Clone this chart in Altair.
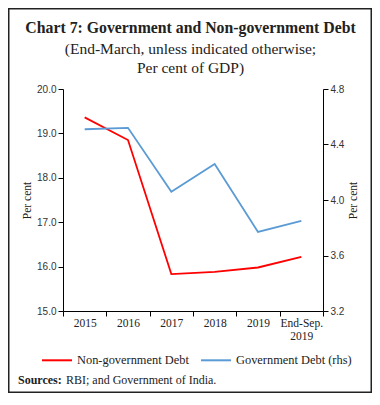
import altair as alt
import pandas as pd

years = ["2015", "2016", "2017", "2018", "2019", "End-Sep. 2019"]
nongov = [19.36, 18.85, 15.83, 15.88, 15.98, 16.22]
gov = [4.51, 4.52, 4.06, 4.26, 3.77, 3.85]
series_names = ["Non-government Debt", "Government Debt (rhs)"]
series_colors = ["#ff0000", "#5b9bd5"]
left_ticks = [15, 16, 17, 18, 19, 20]
right_ticks = [3.2, 3.6, 4.0, 4.4, 4.8]
title_lines = [
    "Chart 7: Government and Non-government Debt",
    "(End-March, unless indicated otherwise;",
    "Per cent of GDP)",
]

df_ng = pd.DataFrame({"year": years, "value": nongov, "series": series_names[0]})
df_g = pd.DataFrame({"year": years, "value": gov, "series": series_names[1]})
one = pd.DataFrame({"k": [0]})

SERIF = "Liberation Serif"
SANS = "Liberation Sans"
INK = "#222222"

x_enc = alt.X(
    "year:O", sort=years, bandPosition=0.5,
    scale=alt.Scale(type="band", paddingInner=0, paddingOuter=0),
    axis=alt.Axis(
        title=None, tickBand="extent", labelAngle=0, labelFont=SERIF,
        labelFontSize=11.5, labelColor=INK, labelPadding=1, tickSize=5,
        domainColor="#000", tickColor="#000", domainWidth=1,
        labelExpr="datum.value == 'End-Sep. 2019' ? ['End-Sep.', '2019'] : datum.value",
    ),
)

color_enc = alt.Color(
    "series:N",
    scale=alt.Scale(domain=series_names, range=series_colors),
    legend=alt.Legend(
        title=None, orient="none", legendX=-22, legendY=255,
        direction="horizontal", symbolType="stroke", symbolSize=900,
        symbolStrokeWidth=2, labelFont=SERIF, labelFontSize=12.4,
        labelColor=INK, labelOffset=4, columnPadding=8, labelLimit=0,
    ),
)

left = alt.Chart(df_ng).mark_line(strokeWidth=1.8).encode(
    x=x_enc,
    y=alt.Y(
        "value:Q",
        scale=alt.Scale(domain=[15, 20], nice=False, zero=False),
        axis=alt.Axis(
            orient="left", title="Per cent", values=left_ticks, format=".1f",
            labelFont=SANS, labelFontSize=10, labelColor="#333",
            titleFont=SERIF, titleFontSize=11.5, titleFontWeight="normal",
            titleColor=INK, titlePadding=4, tickSize=5, labelPadding=2,
            domainColor="#000", tickColor="#000",
        ),
    ),
    color=color_enc,
)

right = alt.Chart(df_g).mark_line(strokeWidth=1.8).encode(
    x=x_enc,
    y=alt.Y(
        "value:Q",
        scale=alt.Scale(domain=[3.2, 4.8], nice=False, zero=False),
        axis=alt.Axis(
            orient="right", title="Per cent", values=right_ticks, format=".1f",
            labelFont=SANS, labelFontSize=10, labelColor="#333",
            titleFont=SERIF, titleFontSize=11.5, titleFontWeight="normal",
            titleColor=INK, titlePadding=4, titleAngle=270, titleBaseline="top",
            tickSize=5, labelPadding=2, domainColor="#000", tickColor="#000",
        ),
    ),
    color=color_enc,
)

def text_layer(txt, x, y, size, weight="normal", align="center", baseline="middle"):
    return alt.Chart(one).mark_text(
        align=align, baseline=baseline, font=SERIF, fontSize=size,
        fontWeight=weight, color=INK, text=txt,
    ).encode(x=alt.value(x), y=alt.value(y))

t1 = text_layer(title_lines[0], 127.5, -61, 15.8, "bold")
t2 = text_layer(title_lines[1], 127.5, -40, 15.5)
t3 = text_layer(title_lines[2], 127.5, -21, 15.5)

src_bold = text_layer("Sources:", -45, 295, 12, "bold", "left", "alphabetic")
src_text = text_layer("RBI; and Government of India.", 3, 295, 12, "normal", "left", "alphabetic")

border = alt.Chart(one).mark_rect(
    fill="transparent", stroke="#222", strokeWidth=1.5,
).encode(
    x=alt.value(-54.25), x2=alt.value(308.25),
    y=alt.value(-80.25), y2=alt.value(303.25),
)

chart = alt.layer(border, left, right, t1, t2, t3, src_bold, src_text).resolve_scale(
    y="independent"
).properties(
    width=260, height=222,
    padding={"left": 55, "top": 81, "right": 49, "bottom": 82},
    autosize=alt.AutoSizeParams(type="none"),
).configure_view(stroke=None).configure_axis(grid=False)

chart.save("out.html", embed_options={"renderer": "svg", "actions": False})
